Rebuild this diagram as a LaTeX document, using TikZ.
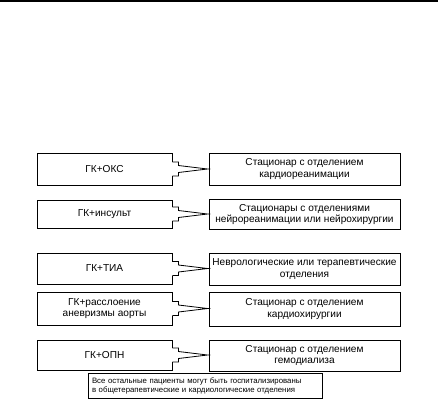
\documentclass[tikz,border=0pt]{standalone}
\usepackage{fontspec}
\setmainfont{Liberation Sans}
\begin{document}
\begin{tikzpicture}[
  box/.style={draw=black, line width=0.8pt, fill=white, align=center, inner sep=1pt,
    font=\fontsize{10.1}{11.5}\selectfont},
  lbox/.style={box, minimum width=135pt},
  rbox/.style={box, minimum width=191pt},
  arr/.style={draw=black, line width=0.8pt, line join=miter},
  notebox/.style={draw=black, line width=0.8pt, align=left, inner xsep=4pt, inner ysep=2pt,
    text width=226pt, minimum height=25pt,
    font=\fontsize{7.8}{9.5}\selectfont}
]
\useasboundingbox (0,0) rectangle (438pt,-407pt);
\draw[line width=1.6pt] (0,-0.8pt) -- (438pt,-0.8pt);

\node[lbox, minimum height=32pt] (l1) at (104.5pt,-169pt) {ГК+ОКС};
\node[rbox, minimum height=32pt] (r1) at (304.5pt,-169pt) {Стационар с отделением\\кардиореанимации};

\node[lbox, minimum height=28pt] (l2) at (104.5pt,-214pt) {ГК+инсульт};
\node[rbox, minimum height=30pt] (r2) at (304.5pt,-214.5pt) {Стационары с отделениями\\нейрореанимации или нейрохирургии};

\node[lbox, minimum height=31pt] (l3) at (104.5pt,-268.5pt) {ГК+ТИА};
\node[rbox, minimum height=32pt] (r3) at (304.5pt,-269pt) {Неврологические или терапевтические\\отделения};

\node[lbox, minimum height=33pt] (l4) at (104.5pt,-308.5pt) {ГК+расслоение\\аневризмы аорты};
\node[rbox, minimum height=34pt] (r4) at (304.5pt,-309pt) {Стационар с отделением\\кардиохирургии};

\node[lbox, minimum height=30pt] (l5) at (104.5pt,-355pt) {ГК+ОПН};
\node[rbox, minimum height=31pt] (r5) at (304.5pt,-355.5pt) {Стационар с отделением\\гемодиализа};

\node[notebox] (n) at (205pt,-386pt) {Все остальные пациенты могут быть госпитализированы\\в общетерапевтические и кардиологические отделения};

\foreach \i in {1,...,5}{
  \fill[white] ([shift={(-0.8pt,-7pt)}]l\i.east) rectangle ([shift={(6pt,7pt)}]l\i.east);
  \draw[arr] ([shift={(0pt,7pt)}]l\i.east) -- ([shift={(6pt,7pt)}]l\i.east)
    -- ([shift={(6pt,3.5pt)}]l\i.east) -- ([shift={(-1pt,0pt)}]r\i.west |- l\i.east)
    -- ([shift={(6pt,-3.5pt)}]l\i.east) -- ([shift={(6pt,-7pt)}]l\i.east)
    -- ([shift={(0pt,-7pt)}]l\i.east);
}
\end{tikzpicture}
\end{document}
